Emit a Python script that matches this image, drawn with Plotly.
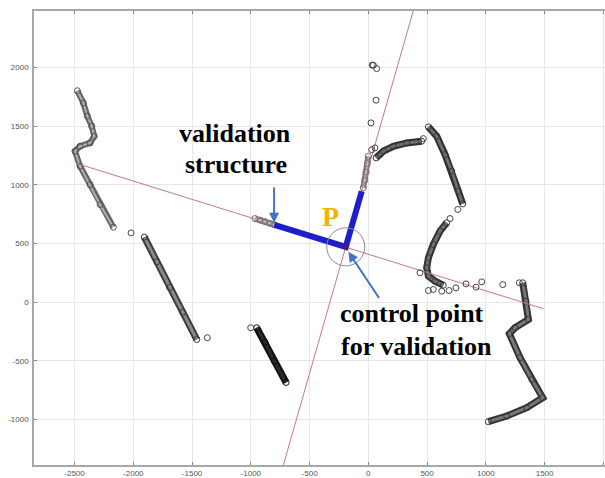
import plotly.graph_objects as go

# ---------------- data ----------------
# dense point structures (x, y in mm-like units)
wall_a_x = [-2476, -2425, -2391, -2354, -2332, -2368, -2453, -2496, -2453, -2368, -2283, -2170]
wall_a_y = [1802, 1698, 1585, 1500, 1414, 1357, 1329, 1287, 1159, 1002, 832, 640]

wall_b_x = [-1906, -1800, -1690, -1580, -1460]
wall_b_y = [555, 345, 125, -85, -317]

wall_c_x = [-950, -880, -800, -700]
wall_c_y = [-217, -340, -500, -683]

wall_d_x = [66, 128, 213, 327, 454]
wall_d_y = [1230, 1287, 1329, 1357, 1372]

wall_e_x = [511, 582, 653, 710, 766, 803]
wall_e_y = [1494, 1414, 1258, 1117, 946, 838]

wall_f_x = [667, 610, 553, 511, 497, 511, 568, 638]
wall_f_y = [677, 606, 492, 379, 294, 223, 180, 146]

wall_g_x = [1314, 1342, 1362, 1248, 1200, 1291, 1391, 1484, 1348, 1178, 1021]
wall_g_y = [166, 10, -146, -217, -268, -472, -657, -813, -898, -969, -1017]

# validation structure points
valid_left_x = [-964, -920, -880, -840, -800]
valid_left_y = [713, 700, 688, 673, 660]
valid_up_x = [-43, -30, -18, -8, 0]
valid_up_y = [974, 1040, 1110, 1180, 1244]

# isolated points
iso_x = [-2019, -1370, -1001, 29, 57, 23, 66, 43, 71, 33, 468, 761, 695,
         440, 511, 553, 625, 687, 746, 831, 917, 965, 1144, 1285]
iso_y = [591, -302, -217, 1300, 1315, 1528, 1721, 2019, 1990, 2020, 1394, 790, 713,
         251, 100, 109, 95, 100, 123, 157, 129, 174, 151, 166]

# control point P and fitted lines
p_x, p_y = -192, 472
line1_x = [-2490, 1490]
line1_y = [1185, -55]
line2_x = [-723, 382]
line2_y = [-1386, 2481]
blue_x = [-800, -192, -56]
blue_y = [660, 472, 946]

x_ticks = [-2500, -2000, -1500, -1000, -500, 0, 500, 1000, 1500, 2000]
x_tick_text = ["-2500", "-2000", "-1500", "-1000", "-500", "0", "500", "1000", "1500", "2000"]
y_ticks = [-1000, -500, 0, 500, 1000, 1500, 2000]
y_tick_text = ["-1000", "-500", "0", "500", "1000", "1500", "2000"]

# ---------------- figure ----------------
fig = go.Figure()

def band(xs, ys, outer="#3a3a3a", inner="#8c8c8c", mk="#3a3a3a", w=7):
    fig.add_trace(go.Scatter(x=xs, y=ys, mode="lines",
                             line=dict(color=outer, width=w), hoverinfo="skip"))
    fig.add_trace(go.Scatter(x=xs, y=ys, mode="lines",
                             line=dict(color=inner, width=max(w - 4, 1)), hoverinfo="skip"))
    fig.add_trace(go.Scatter(x=xs, y=ys, mode="markers",
                             marker=dict(symbol="circle-open", size=6,
                                         color=mk, line=dict(width=1))))

band(wall_a_x, wall_a_y, outer="#666666", inner="#b0b0b0", mk="#555555", w=6)
band(wall_b_x, wall_b_y, outer="#3c3c3c", inner="#8a8a8a")
band(wall_c_x, wall_c_y, outer="#111111", inner="#2a2a2a", mk="#111111")
band(wall_d_x, wall_d_y, outer="#2e2e2e", inner="#6e6e6e")
band(wall_e_x, wall_e_y, outer="#2e2e2e", inner="#6e6e6e")
band(wall_f_x, wall_f_y, outer="#333333", inner="#707070")
band(wall_g_x, wall_g_y, outer="#333333", inner="#777777")

# red lines
fig.add_trace(go.Scatter(x=line1_x, y=line1_y, mode="lines",
                         line=dict(color="#c47a78", width=1)))
fig.add_trace(go.Scatter(x=line2_x, y=line2_y, mode="lines",
                         line=dict(color="#c47a78", width=1)))

# validation structure
band(valid_left_x, valid_left_y, outer="#8a7c7c", inner="#c8b8b8", mk="#7a6e6e", w=6)
band(valid_up_x, valid_up_y, outer="#8a7c7c", inner="#c8b8b8", mk="#7a6e6e", w=6)
fig.add_trace(go.Scatter(x=blue_x, y=blue_y, mode="lines",
                         line=dict(color="#1e1ecc", width=6)))
fig.add_trace(go.Scatter(x=[p_x], y=[p_y], mode="markers",
                         marker=dict(color="#8b1010", size=4)))

# isolated points
fig.add_trace(go.Scatter(x=iso_x, y=iso_y, mode="markers",
                         marker=dict(symbol="circle-open", size=6, color="#444444",
                                     line=dict(width=1))))

# circle around P
r = 162
fig.add_shape(type="circle", xref="x", yref="y",
              x0=p_x - r, x1=p_x + r, y0=p_y - r, y1=p_y + r,
              line=dict(color="#8a8a8a", width=1))

serif = "Liberation Serif, Times New Roman, serif"
txt = dict(family=serif, size=26, color="black")

def label(text, x, y, font):
    fig.add_annotation(x=x, y=y, xref="x", yref="y", text=text, showarrow=False,
                       font=font, xanchor="center", yanchor="middle")

label("<b>validation</b>", -1133, 1434, txt)
label("<b>structure</b>", -1125, 1170, txt)
label("<b>P</b>", -318, 728, dict(family=serif, size=28, color="#f5b400"))
label("<b>control point</b>", 369, -98, txt)
label("<b>for validation</b>", 407, -379, txt)

arrow_col = "#4472c4"
fig.add_annotation(x=-802, y=677, ax=-802, ay=991, xref="x", yref="y",
                   axref="x", ayref="y", text="", showarrow=True,
                   arrowhead=2, arrowsize=1, arrowwidth=2, arrowcolor=arrow_col)
fig.add_annotation(x=-170, y=430, ax=100, ay=24, xref="x", yref="y",
                   axref="x", ayref="y", text="", showarrow=True,
                   arrowhead=2, arrowsize=1, arrowwidth=2, arrowcolor=arrow_col)

axis_common = dict(showgrid=True, gridcolor="#e6e6e6", gridwidth=1,
                   zeroline=False, showline=True, linecolor="#a8a8a8", linewidth=1.5,
                   ticks="inside", ticklen=3, tickcolor="#888888", automargin=False,
                   tickfont=dict(family="Liberation Sans, Arial", size=8, color="#555555"))

fig.update_layout(
    width=605, height=478,
    margin=dict(l=34, r=0, t=11, b=13, pad=0),
    paper_bgcolor="white", plot_bgcolor="white",
    showlegend=False,
    xaxis=dict(range=[-2845, 2014], tickvals=x_ticks, ticktext=x_tick_text,
               mirror="ticks", ticklabelstandoff=0, **axis_common),
    yaxis=dict(range=[-1386, 2481], tickvals=y_ticks, ticktext=y_tick_text,
               ticklabelstandoff=2, **axis_common),
)

fig.write_html("out.html", config={"displayModeBar": False},
               post_script="document.body.style.margin='0';document.body.style.padding='0';"
                           "document.body.style.overflow='hidden';")
